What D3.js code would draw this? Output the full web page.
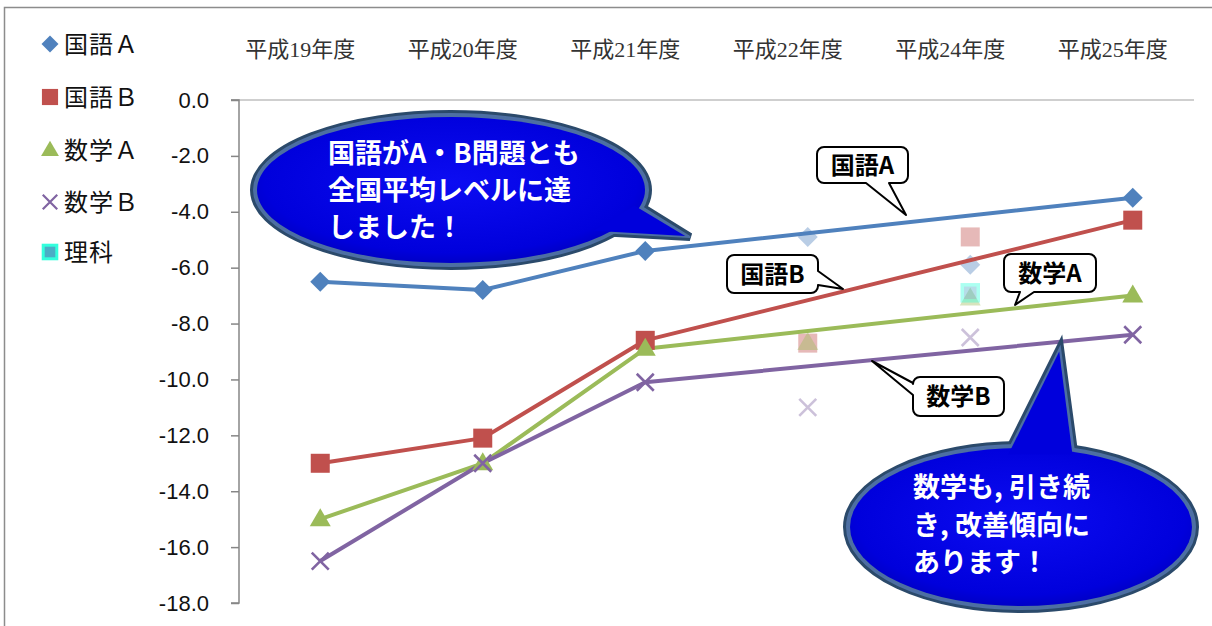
<!DOCTYPE html>
<html><head><meta charset="utf-8">
<script src="https://cdn.jsdelivr.net/npm/d3@7"></script>
<style>
html,body{margin:0;padding:0;background:#fff;}
svg{display:block;}
</style></head>
<body>
<svg id="chart" width="1212" height="626"></svg>
<script>
// ---------- data ----------
const categories = ["平成19年度","平成20年度","平成21年度","平成22年度","平成24年度","平成25年度"];
const yTicks = [0,-2,-4,-6,-8,-10,-12,-14,-16,-18];
const seriesNames = ["国語Ａ","国語Ｂ","数学Ａ","数学Ｂ","理科"];
// main (connected) values
const kokugoA = [-6.5,-6.8,-5.4,null,null,-3.5];
const kokugoB = [-13.0,-12.1,-8.6,null,null,-4.3];
const sugakuA = [-15.0,-13.0,-8.9,null,null,-7.0];
const sugakuB = [-16.5,-13.0,-10.1,null,null,-8.4];
// faded (unconnected) values
const kokugoAFaded = [null,null,null,-4.9,-5.9,null];
const kokugoBFaded = [null,null,null,-8.7,-4.9,null];
const sugakuAFaded = [null,null,null,-8.7,-7.1,null];
const sugakuBFaded = [null,null,null,-11.0,-8.5,null];
const rikaFaded = [null,null,null,null,-6.9,null];

const calloutTexts1 = ["国語がA・B問題とも","全国平均レベルに達","しました！"];
const calloutTexts2 = ["数学も, 引き続","き, 改善傾向に","あります！"];

// ---------- setup ----------
const svg = d3.select("#chart");
const x = d3.scalePoint().domain(categories).range([239, 1214]).padding(0.5);
const y = d3.scaleLinear().domain([-18, 0]).range([603, 100]);

const colors = {A:"#4f81bd", B:"#c0504d", MA:"#9bbb59", MB:"#8064a2", R:"#4bacc6"};

// outer frame
svg.append("rect").attr("x",4.5).attr("y",7.5).attr("width",1400).attr("height",800)
  .attr("fill","none").attr("stroke","#8c8c8c").attr("stroke-width",1.5);

// top x-axis line (at y = 0)
svg.append("line").attr("x1",231).attr("x2",1194).attr("y1",y(0)).attr("y2",y(0))
  .attr("stroke","#bfbfbf").attr("stroke-width",1.5);

// y axis
const fmt = d3.format(".1f");
const yAxis = d3.axisLeft(y).tickValues(yTicks).tickFormat(d => fmt(d).replace("\u2212","-")).tickSize(8).tickPadding(22);
const yg = svg.append("g").attr("transform","translate(239,0)").call(yAxis);
yg.select(".domain").attr("stroke","#868686").attr("stroke-width",1.5).attr("d","M-8,"+y(0)+"H0V"+y(-18)+"H-8");
yg.selectAll(".tick line").attr("stroke","#868686").attr("stroke-width",1.5);
yg.selectAll(".tick text").attr("font-family","'Liberation Sans', Arial, sans-serif").attr("font-size",22).attr("fill","#111");

// category labels at top
svg.append("g").selectAll("text").data(categories).join("text")
  .attr("x", d => x(d) - 20).attr("y", 57)
  .attr("text-anchor","middle")
  .attr("font-family","'Liberation Serif','Noto Sans CJK JP',serif")
  .attr("font-size",22).attr("fill","#333")
  .text(d => d);

// ---------- markers ----------
function marker(g, type, cx, cy, color, opacity, s) {
  s = s || 1;
  const t = g.append("g").attr("transform",`translate(${cx},${cy}) scale(${s})`).attr("opacity",opacity);
  if (type==="diamond") t.append("path").attr("d","M0,-10L10,0L0,10L-10,0Z").attr("fill",color);
  else if (type==="square") t.append("rect").attr("x",-9.5).attr("y",-9.5).attr("width",19).attr("height",19).attr("fill",color);
  else if (type==="triangle") t.append("path").attr("d","M0,-11L10.5,7L-10.5,7Z").attr("fill",color);
  else if (type==="x") t.append("path").attr("d","M-8.5,-8.5L8.5,8.5M-8.5,8.5L8.5,-8.5").attr("stroke",color).attr("stroke-width",2.6).attr("fill","none");
  else if (type==="rika") {
    t.append("rect").attr("x",-8).attr("y",-8).attr("width",16).attr("height",16).attr("fill",color).attr("stroke","#33ffdd").attr("stroke-width",3.5);
  }
}

const series = [
  {vals:kokugoA, faded:kokugoAFaded, color:colors.A, type:"diamond"},
  {vals:kokugoB, faded:kokugoBFaded, color:colors.B, type:"square"},
  {vals:sugakuA, faded:sugakuAFaded, color:colors.MA, type:"triangle"},
  {vals:sugakuB, faded:sugakuBFaded, color:colors.MB, type:"x"},
];

const fadedG = svg.append("g");
series.forEach(s => {
  s.faded.forEach((v,i) => { if (v!==null) marker(fadedG, s.type, x(categories[i]), y(v), s.color, 0.4); });
});
rikaFaded.forEach((v,i) => { if (v!==null) marker(fadedG, "rika", x(categories[i]), y(v), colors.R, 0.4); });

// lines
const line = d3.line().x(d => x(d.c)).y(d => y(d.v));
const linesG = svg.append("g");
series.forEach(s => {
  const pts = s.vals.map((v,i) => ({c:categories[i], v})).filter(d => d.v!==null);
  linesG.append("path").datum(pts).attr("d", line).attr("fill","none")
    .attr("stroke", s.color).attr("stroke-width",4).attr("stroke-linejoin","round");
});
series.forEach(s => {
  s.vals.forEach((v,i) => { if (v!==null) marker(linesG, s.type, x(categories[i]), y(v), s.color, 1); });
});

// ---------- legend ----------
const legendTypes = ["diamond","square","triangle","x","rika"];
const legendColors = [colors.A, colors.B, colors.MA, colors.MB, colors.R];
const legendY = [44, 97, 150, 202, 252];
const lg = svg.append("g");
seriesNames.forEach((n,i) => {
  marker(lg, legendTypes[i], 50, legendY[i], legendColors[i], 1, 0.85);
  lg.append("text").attr("x",64).attr("y",legendY[i]).attr("dy","0.36em")
    .attr("font-family","'Noto Sans CJK JP',sans-serif").attr("font-size",24).attr("letter-spacing",1).attr("fill","#111").text(n);
});

// ---------- small label callouts ----------
function calloutPath(bx, by, w, h, r, side, b1, b2, tip) {
  let p = `M${bx+r},${by}H${bx+w-r}A${r},${r} 0 0 1 ${bx+w},${by+r}`;
  if (side==="right") p += `V${b1}L${tip[0]},${tip[1]}L${bx+w},${b2}`;
  p += `V${by+h-r}A${r},${r} 0 0 1 ${bx+w-r},${by+h}`;
  if (side==="bottom") p += `H${b2}L${tip[0]},${tip[1]}L${b1},${by+h}`;
  p += `H${bx+r}A${r},${r} 0 0 1 ${bx},${by+h-r}`;
  if (side==="left") p += `V${b2}L${tip[0]},${tip[1]}L${bx},${b1}`;
  p += `V${by+r}A${r},${r} 0 0 1 ${bx+r},${by}Z`;
  return p;
}
const labelCallouts = [
  {text:"国語A", box:[817,147,91,36], side:"bottom", b:[866,889], tip:[906,215]},
  {text:"国語B", box:[727,255,91,38], side:"right", b:[271,285], tip:[843,289]},
  {text:"数学A", box:[1004,254,92,38], side:"bottom", b:[1020,1034], tip:[1015,305]},
  {text:"数学B", box:[913,377,91,39], side:"left", b:[383,395], tip:[872,361]},
];
const lcG = svg.append("g");
labelCallouts.forEach(c => {
  const [bx,by,w,h] = c.box;
  lcG.append("path").attr("d", calloutPath(bx,by,w,h,7,c.side,c.b[0],c.b[1],c.tip))
    .attr("fill","#fff").attr("stroke","#000").attr("stroke-width",2).attr("stroke-linejoin","round");
  lcG.append("text").attr("x",bx+w/2).attr("y",by+h/2).attr("dy","0.36em").attr("text-anchor","middle")
    .attr("font-family","'Noto Sans CJK JP',sans-serif").attr("font-weight","bold").attr("font-size",24)
    .attr("fill","#000").text(c.text);
});

// ---------- big blue speech bubbles ----------
const defs = svg.append("defs");
const grad = defs.append("radialGradient").attr("id","bubbleGrad").attr("cx","50%").attr("cy","45%").attr("r","60%");
grad.append("stop").attr("offset","0%").attr("stop-color","#0c0cf2");
grad.append("stop").attr("offset","80%").attr("stop-color","#0000dc");
grad.append("stop").attr("offset","100%").attr("stop-color","#0000b8");

function bubble(cx, cy, rx, ry, tail, lines, tx, ty, lh) {
  const g = svg.append("g");
  const tailPts = tail.map(p => p.join(",")).join(" ");
  g.append("ellipse").attr("cx",cx).attr("cy",cy).attr("rx",rx).attr("ry",ry)
    .attr("fill","#2b4a6b").attr("stroke","#2b4a6b").attr("stroke-width",8);
  g.append("polygon").attr("points",tailPts).attr("fill","#2b4a6b").attr("stroke","#2b4a6b").attr("stroke-width",8).attr("stroke-linejoin","miter");
  g.append("ellipse").attr("cx",cx).attr("cy",cy).attr("rx",rx).attr("ry",ry)
    .attr("fill","#4d6fa3").attr("stroke","#4d6fa3").attr("stroke-width",2);
  g.append("polygon").attr("points",tailPts).attr("fill","#4d6fa3").attr("stroke","#4d6fa3").attr("stroke-width",2);
  g.append("ellipse").attr("cx",cx).attr("cy",cy).attr("rx",rx-3).attr("ry",ry-3).attr("fill","url(#bubbleGrad)");
  const inner = tail.map((p,i) => i===1 ? [p[0]+(cx-p[0])*0.02, p[1]+(cy-p[1])*0.02] : [p[0]+(cx-p[0])*0.03, p[1]+(cy-p[1])*0.03]);
  g.append("polygon").attr("points",inner.map(p=>p.join(",")).join(" ")).attr("fill","#0000dc");
  lines.forEach((t,i) => {
    g.append("text").attr("x",tx).attr("y",ty+i*lh)
      .attr("font-family","'Noto Sans CJK JP',sans-serif").attr("font-weight","bold")
      .attr("font-size",27).attr("fill","#fff").text(t);
  });
}
bubble(451, 190, 197, 76, [[598,232],[690,237],[640,206]], calloutTexts1, 328, 163, 37);
bubble(1021, 527, 174, 82, [[1008,452],[1060,348],[1074,452]], calloutTexts2, 913, 497, 37.5);
</script>
</body></html>
